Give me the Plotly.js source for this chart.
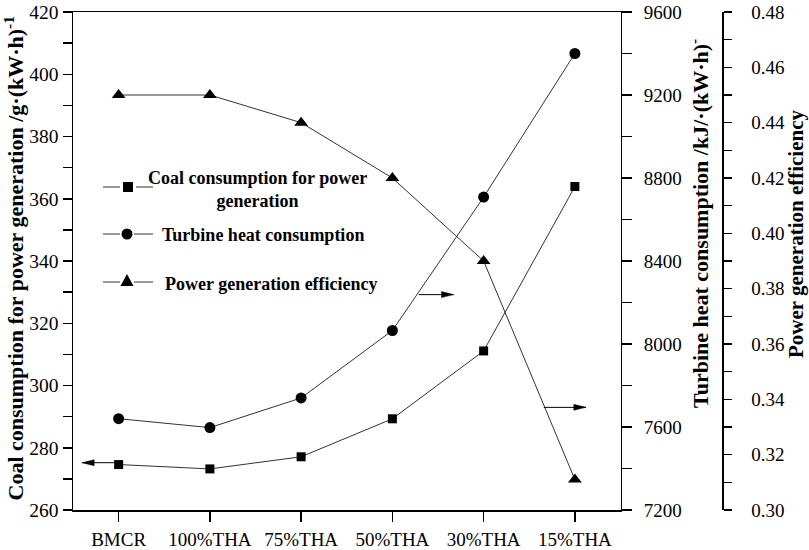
<!DOCTYPE html>
<html>
<head>
<meta charset="utf-8">
<script src="https://cdn.plot.ly/plotly-3.0.1.min.js"></script>
<style>html,body{margin:0;padding:0;background:#fff;}#chart{width:809px;height:550px;}</style>
</head>
<body>
<div id="chart"></div>
<script>
// ---- data ----
var categories = ['BMCR', '100%THA', '75%THA', '50%THA', '30%THA', '15%THA'];
var coalConsumption = [274.6, 273.2, 277.1, 289.3, 311.1, 363.9];
var heatConsumption = [7640, 7597, 7740, 8065, 8708, 9400];
var efficiency = [0.45, 0.45, 0.44, 0.42, 0.39, 0.311];

var coalTickVals = [260, 270, 280, 290, 300, 310, 320, 330, 340, 350, 360, 370, 380, 390, 400, 410, 420];
var coalTickText = ['260', '', '280', '', '300', '', '320', '', '340', '', '360', '', '380', '', '400', '', '420'];
var heatTickVals = [7200, 7400, 7600, 7800, 8000, 8200, 8400, 8600, 8800, 9000, 9200, 9400, 9600];
var heatTickText = ['7200', '', '7600', '', '8000', '', '8400', '', '8800', '', '9200', '', '9600'];
var effTickVals = [0.30, 0.31, 0.32, 0.33, 0.34, 0.35, 0.36, 0.37, 0.38, 0.39, 0.40, 0.41, 0.42, 0.43, 0.44, 0.45, 0.46, 0.47, 0.48];
var effTickText = ['0.30', '', '0.32', '', '0.34', '', '0.36', '', '0.38', '', '0.40', '', '0.42', '', '0.44', '', '0.46', '', '0.48'];

var seriesNames = ['Coal consumption for power<br>generation', 'Turbine heat consumption', 'Power generation efficiency'];

// ---- layout helpers (pixel -> paper) ----
var ML = 73, MR = 87, MT = 12, MB = 40, W = 809, H = 550;
var PW = W - ML - MR, PH = H - MT - MB;
function px(x) { return (x - ML) / PW; }
function py(y) { return (H - MB - y) / PH; }

var FONT = 'Liberation Serif';
var lineCol = '#333';

var traces = [
  { x: categories, y: coalConsumption, yaxis: 'y', mode: 'lines+markers', name: 'coal',
    line: { color: lineCol, width: 1 }, marker: { symbol: 'square', size: 9, color: '#000' } },
  { x: categories, y: heatConsumption, yaxis: 'y2', mode: 'lines+markers', name: 'heat',
    line: { color: lineCol, width: 1 }, marker: { symbol: 'circle', size: 11, color: '#000' } },
  { x: categories, y: efficiency, yaxis: 'y3', mode: 'lines+markers', name: 'eff',
    line: { color: lineCol, width: 1 }, marker: { symbol: 'triangle-up', size: 12, color: '#000' } }
];

function lineShape(x0, x1, y) {
  return { type: 'line', xref: 'paper', yref: 'paper', x0: px(x0), x1: px(x1), y0: py(y), y1: py(y),
           line: { color: lineCol, width: 1 } };
}
// pointer arrow (line + filled head), tail/tip in axis coordinates
function arrowShapes(yref, xTail, xTip, yv) {
  var dir = xTip > xTail ? 1 : -1;
  return [
    { type: 'line', xref: 'x', yref: yref, x0: xTail, x1: xTip, y0: yv, y1: yv,
      line: { color: '#000', width: 1 } },
    { type: 'path', xref: 'x', yref: yref, xsizemode: 'pixel', ysizemode: 'pixel',
      xanchor: xTip, yanchor: yv,
      path: 'M 0 0 L ' + (-12 * dir) + ' 3 L ' + (-12 * dir) + ' -3 Z',
      fillcolor: '#000', line: { color: '#000', width: 0.5 } }
  ];
}
var shapes = [
  // legend symbols
  lineShape(103, 120, 187), lineShape(136, 153, 187),
  { type: 'rect', xref: 'paper', yref: 'paper', x0: px(123), x1: px(133), y0: py(192), y1: py(182),
    fillcolor: '#000', line: { width: 0 } },
  lineShape(103, 120, 234), lineShape(134, 153, 234),
  { type: 'circle', xref: 'paper', yref: 'paper', x0: px(121.5), x1: px(132.5), y0: py(239.5), y1: py(228.5),
    fillcolor: '#000', line: { width: 0 } },
  lineShape(103, 120, 282), lineShape(134, 153, 282),
  { type: 'path', xref: 'paper', yref: 'paper',
    path: 'M ' + px(120.5) + ' ' + py(286) + ' L ' + px(133.5) + ' ' + py(286) + ' L ' + px(127) + ' ' + py(274) + ' Z',
    fillcolor: '#000', line: { width: 0 } }
]
  .concat(arrowShapes('y', -0.05, -0.40, 275.2))
  .concat(arrowShapes('y2', 3.29, 3.67, 8238))
  .concat(arrowShapes('y3', 4.66, 5.12, 0.3371));

var titleFont = { family: FONT, size: 22, color: '#000', weight: 'bold' };
var legFont = { family: FONT, size: 18, color: '#000', weight: 'bold' };
var tickFont = { family: FONT, size: 19, color: '#000' };

var annotations = [
  { xref: 'paper', yref: 'paper', x: px(13.5), y: py(259), textangle: -90, showarrow: false,
    xanchor: 'center', yanchor: 'middle', font: titleFont,
    text: '<b>Coal consumption for power generation /g·(kW·h)<sup>-1</sup></b>' },
  { xref: 'paper', yref: 'paper', x: px(699), y: py(224), textangle: -90, showarrow: false,
    xanchor: 'center', yanchor: 'middle', font: titleFont,
    text: '<b>Turbine heat consumption /kJ/·(kW·h)<sup>-</sup></b>' },
  { xref: 'paper', yref: 'paper', x: px(796), y: py(234), textangle: -90, showarrow: false,
    xanchor: 'center', yanchor: 'middle', font: { family: FONT, size: 21, color: '#000', weight: 'bold' },
    text: '<b>Power generation efficiency</b>' },
  // legend text
  { xref: 'paper', yref: 'paper', x: px(257), y: py(189), showarrow: false, align: 'center',
    xanchor: 'center', yanchor: 'middle', font: legFont, text: '<b>' + seriesNames[0] + '</b>' },
  { xref: 'paper', yref: 'paper', x: px(160), y: py(235), showarrow: false,
    xanchor: 'left', yanchor: 'middle', font: legFont, text: '<b>' + seriesNames[1] + '</b>' },
  { xref: 'paper', yref: 'paper', x: px(163), y: py(284), showarrow: false,
    xanchor: 'left', yanchor: 'middle', font: legFont, text: '<b>' + seriesNames[2] + '</b>' }
];

var axisCommon = { showgrid: false, zeroline: false, linecolor: '#000', linewidth: 1.5,
  ticks: 'outside', tickwidth: 1.5, tickcolor: '#000', ticklabeloverflow: 'allow' };

var layout = {
  width: W, height: H,
  margin: { l: ML, r: MR, t: MT, b: MB, pad: 0 },
  paper_bgcolor: '#fff', plot_bgcolor: '#fff',
  showlegend: false,
  font: { family: FONT, color: '#000' },
  xaxis: Object.assign({}, axisCommon, {
    domain: [0, px(620.5)], type: 'category', range: [-0.5, 5.5], mirror: true,
    ticklen: 10, tickfont: tickFont, ticklabelstandoff: 2
  }),
  yaxis: Object.assign({}, axisCommon, {
    range: [260, 420], tickmode: 'array', tickvals: coalTickVals, ticktext: coalTickText,
    ticklen: 9, tickfont: { family: FONT, size: 19.5, color: '#000' }
  }),
  yaxis2: Object.assign({}, axisCommon, {
    overlaying: 'y', side: 'right', anchor: 'x', range: [7200, 9600],
    tickmode: 'array', tickvals: heatTickVals, ticktext: heatTickText,
    ticklen: 10, ticklabelstandoff: 8, tickfont: tickFont
  }),
  yaxis3: Object.assign({}, axisCommon, {
    overlaying: 'y', side: 'right', anchor: 'free', position: 1, range: [0.30, 0.48],
    tickmode: 'array', tickvals: effTickVals, ticktext: effTickText,
    ticklen: 8, ticklabelstandoff: 16, tickfont: tickFont
  }),
  shapes: shapes,
  annotations: annotations
};

Plotly.newPlot('chart', traces, layout, { staticPlot: true, displayModeBar: false });
</script>
</body>
</html>
